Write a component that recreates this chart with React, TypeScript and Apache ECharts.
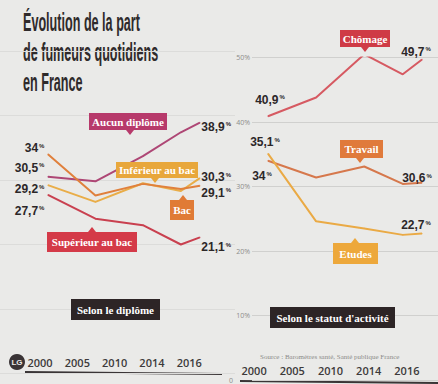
import React, { useEffect, useRef } from 'react';
import * as echarts from 'echarts';

// ---- data ----
const years = [2000, 2005, 2010, 2014, 2016];
const yearLabels = ['2000', '2005', '2010', '2014', '2016'];
const aucunDiplome = [30.5, 29.8, 33.7, 37.4, 38.9];
const inferieurBac = [29.2, 26.6, 29.5, 28.3, 30.3];
const bac = [34, 27.6, 29.4, 28.6, 29.1];
const superieurBac = [27.7, 24.0, 23.0, 20.0, 21.1];
const chomage = [40.9, 43.8, 50.5, 47.4, 49.7];
const travail = [34, 31.4, 33.1, 30.4, 30.6];
const etudes = [35.1, 24.6, 23.5, 22.5, 22.7];
const yTicks = [0, 10, 20, 30, 40, 50];

const fmt = (v: number) => String(v).replace('.', ',');
const INK = '#2c2728';

const valueLabel = {
  show: false,
  formatter: (p: any) => `{v|${fmt(p.value[1])}}{p|%}`,
  rich: {
    v: { fontFamily: 'Liberation Sans', fontWeight: 'bold', fontSize: 12, color: INK },
    p: { fontFamily: 'Liberation Sans', fontWeight: 'bold', fontSize: 6, color: INK, padding: [0, 0, 5, 1] },
  },
};

function build(vals: number[], first: any, last: any) {
  return vals.map((v, i) => {
    if (i === 0) return { value: [years[i], v], label: { show: true, ...first } };
    if (i === vals.length - 1) return { value: [years[i], v], label: { show: true, ...last } };
    return [years[i], v];
  });
}

function lineSeries(name: string, vals: number[], color: string, idx: number, first: any, last: any) {
  return {
    type: 'line',
    name,
    xAxisIndex: idx,
    yAxisIndex: idx,
    data: build(vals, first, last),
    showSymbol: true,
    symbol: 'circle',
    symbolSize: 1,
    lineStyle: { color, width: 2 },
    itemStyle: { color },
    label: valueLabel,
    z: 3,
  };
}

const TAG_FONT = 'bold 11px "Liberation Serif"';

function tag(x: number, y: number, w: number, h: number, color: string, text: string, ptr?: { dir: 'up' | 'down'; x: number }) {
  const children: any[] = [
    { type: 'rect', z: 10, shape: { x, y, width: w, height: h }, style: { fill: color } },
    {
      type: 'text', z: 11,
      x: x + w / 2,
      y: y + h / 2,
      style: { text, fill: '#ffffff', font: TAG_FONT, align: 'center', verticalAlign: 'middle' },
    },
  ];
  if (ptr) {
    const pts = ptr.dir === 'down'
      ? [[ptr.x - 4, y + h], [ptr.x + 4, y + h], [ptr.x, y + h + 5]]
      : [[ptr.x - 4, y], [ptr.x + 4, y], [ptr.x, y - 5]];
    children.push({ type: 'polygon', z: 10, shape: { points: pts }, style: { fill: color } });
  }
  return { type: 'group', z: 10, children };
}

export default function App() {
  const ref = useRef<HTMLDivElement>(null);
  useEffect(() => {
    if (!ref.current) return;
    const chart = echarts.init(ref.current, undefined, { renderer: 'svg' });
    const option: any = {
      animation: false,
      backgroundColor: '#eaeae8',
      grid: [
        { left: 0, right: 203, top: 51, bottom: 10.5 },
        { left: 252, right: 0, top: 57.5, bottom: 4 },
        { left: 21.4, width: 186.5, top: 300, bottom: 29 },
        { left: 235, width: 191, top: 300, bottom: 21 },
      ],
      xAxis: [
        { type: 'value', gridIndex: 0, min: 1994.95, max: 2019.7, show: false },
        { type: 'value', gridIndex: 1, min: 1998.34, max: 2017.66, show: false },
        {
          type: 'category', gridIndex: 2, data: yearLabels,
          axisLine: { show: false }, axisTick: { show: false },
          axisLabel: { interval: 0, margin: 2, fontSize: 11, fontWeight: 600, color: '#3d3a3b', fontFamily: 'Open Sans' },
        },
        {
          type: 'category', gridIndex: 3, data: yearLabels,
          axisLine: { show: false }, axisTick: { show: false },
          axisLabel: { interval: 0, margin: 2, fontSize: 11, fontWeight: 600, color: '#3d3a3b', fontFamily: 'Open Sans' },
        },
      ],
      yAxis: [
        {
          type: 'value', gridIndex: 0, min: yTicks[0], max: yTicks[yTicks.length - 1], interval: 10,
          axisLabel: { show: false }, axisLine: { show: false }, axisTick: { show: false },
          splitLine: { lineStyle: { color: '#dcdcda', width: 1 } },
        },
        {
          type: 'value', gridIndex: 1, min: yTicks[0], max: yTicks[yTicks.length - 1], interval: 10,
          axisLine: { show: false }, axisTick: { show: false },
          axisLabel: {
            margin: 2, fontSize: 7, color: '#8d8d8b', fontFamily: 'Open Sans',
            formatter: (v: number) => (v === 0 ? '{z|0}' : v + '%'),
            rich: { z: { fontSize: 7, color: '#8d8d8b', fontFamily: 'Open Sans', padding: [0, 17, 0, 0] } },
          },
          splitLine: { lineStyle: { color: '#d0d0ce', width: 1 } },
        },
        { type: 'value', gridIndex: 2, show: false },
        { type: 'value', gridIndex: 3, show: false },
      ],
      series: [
        lineSeries('Aucun diplôme', aucunDiplome, '#ae4775', 0,
          { position: 'left', distance: 3, offset: [0, -9] },
          { position: 'right', distance: 1, offset: [0, 4] }),
        lineSeries('Inférieur au bac', inferieurBac, '#e9ad48', 0,
          { position: 'left', distance: 3, offset: [0, 4] },
          { position: 'right', distance: 1, offset: [0, -1] }),
        lineSeries('Bac', bac, '#e0803c', 0,
          { position: 'left', distance: 3, offset: [0, -6] },
          { position: 'right', distance: 1, offset: [0, 7] }),
        lineSeries('Supérieur au bac', superieurBac, '#c9404f', 0,
          { position: 'left', distance: 3, offset: [0, 16] },
          { position: 'right', distance: 1, offset: [0, 10] }),
        lineSeries('Chômage', chomage, '#d65a62', 1,
          { position: 'top', distance: 10, offset: [2, 0] },
          { position: 'top', distance: 5, offset: [-6, 4] }),
        lineSeries('Travail', travail, '#d6784c', 1,
          { position: 'bottom', distance: 5, offset: [-6, 4] },
          { position: 'top', distance: 0, offset: [-5, 2] }),
        lineSeries('Etudes', etudes, '#eaaa45', 1,
          { position: 'top', distance: 5, offset: [-3, 0] },
          { position: 'top', distance: 2, offset: [-6, 0] }),
      ],
      graphic: [
        {
          type: 'text', x: 23, y: 7, scaleX: 0.485,
          style: {
            text: 'Évolution de la part\nde fumeurs quotidiens\nen France',
            font: 'bold 26px Liberation Sans', fill: '#2f2a2b', lineHeight: 30,
          },
        },
        tag(89, 113, 78, 17, '#b73a6b', 'Aucun diplôme', { dir: 'down', x: 130 }),
        tag(116, 162, 82, 16, '#e8a73b', 'Inférieur au bac', { dir: 'down', x: 155 }),
        tag(170, 200, 24, 20, '#e07b36', 'Bac', { dir: 'up', x: 183 }),
        tag(47, 232, 90, 20, '#d43a48', 'Supérieur au bac', { dir: 'up', x: 92 }),
        tag(340, 30, 50, 17, '#cf3b46', 'Chômage', { dir: 'down', x: 365 }),
        tag(340, 140, 43, 18, '#e07a3b', 'Travail', { dir: 'down', x: 360 }),
        tag(333, 243, 45, 21, '#eda83b', 'Etudes', { dir: 'up', x: 355 }),
        tag(71, 299, 89, 21, '#2d2526', 'Selon le diplôme'),
        tag(270, 307, 125, 21, '#2d2526', "Selon le statut d'activité"),
        { type: 'line', shape: { x1: 25, y1: 372, x2: 222, y2: 374 }, style: { stroke: '#3a3536', lineWidth: 2 } },
        { type: 'line', shape: { x1: 240, y1: 381, x2: 438, y2: 383 }, style: { stroke: '#3a3536', lineWidth: 2 } },
        { type: 'circle', shape: { cx: 17, cy: 362, r: 8 }, style: { fill: '#3a3436' } },
        {
          type: 'text', x: 17, y: 362,
          style: { text: 'LG', fill: '#eaeae8', font: 'bold 8px Liberation Sans', align: 'center', verticalAlign: 'middle' },
        },
        {
          type: 'text', x: 260, y: 357,
          style: {
            text: 'Source : Baromètres santé, Santé publique France', fill: '#8a8a88',
            font: '7px Liberation Serif', verticalAlign: 'middle',
          },
        },
      ],
    };
    chart.setOption(option);
    return () => chart.dispose();
  }, []);
  return <div ref={ref} style={{ position: 'absolute', left: 0, top: 0, width: 438, height: 384 }} />;
}
